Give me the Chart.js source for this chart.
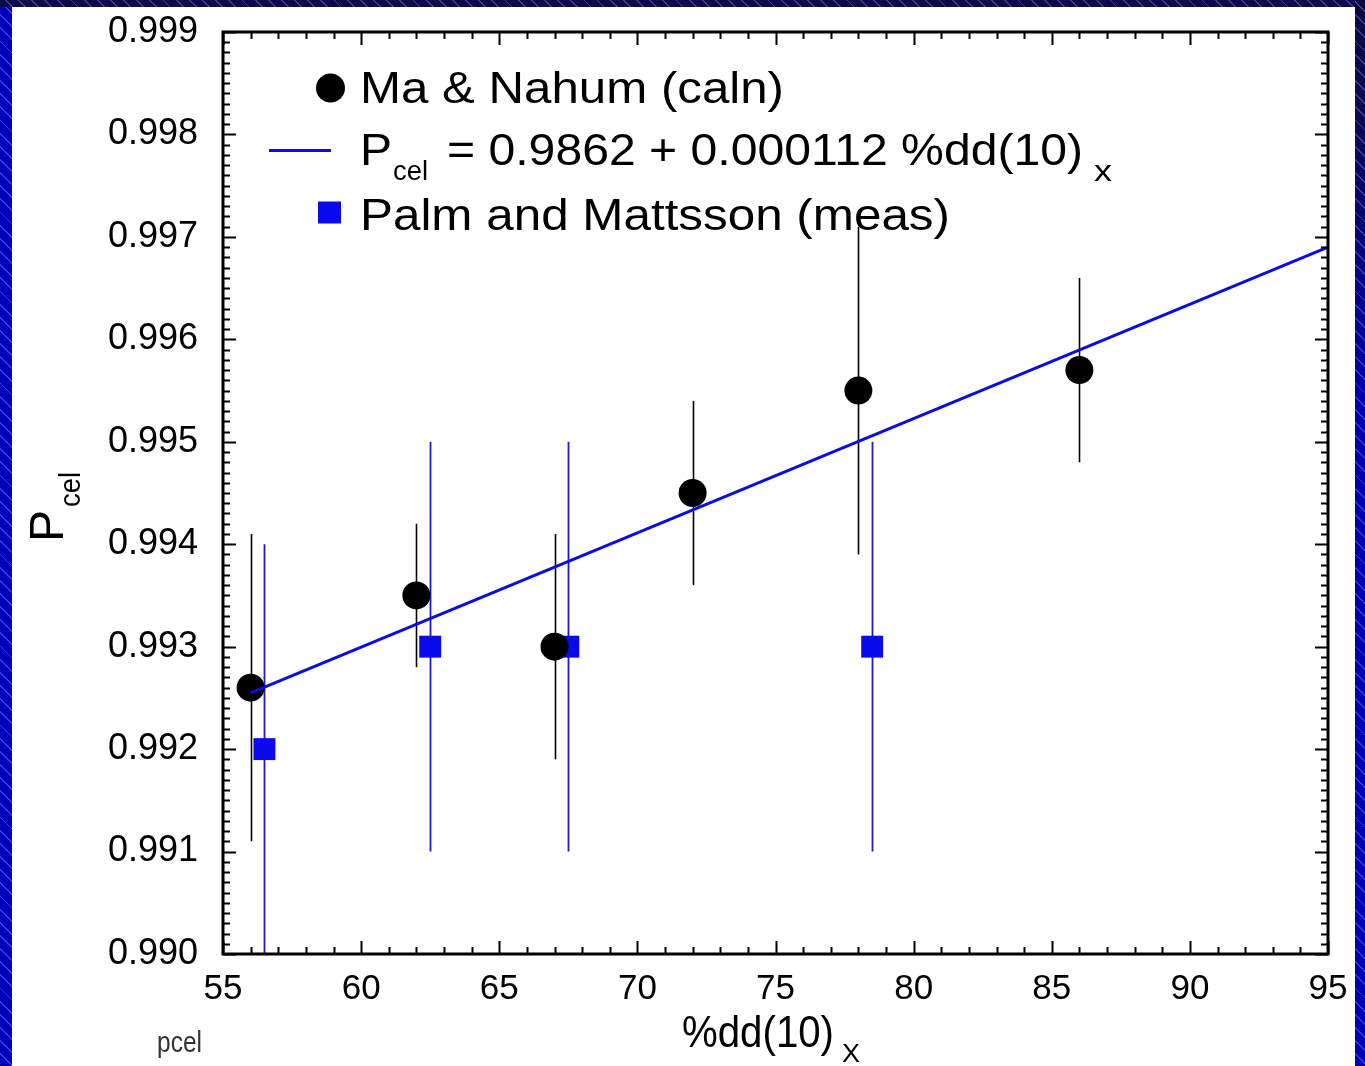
<!DOCTYPE html>
<html>
<head>
<meta charset="utf-8">
<script src="https://cdn.jsdelivr.net/npm/chart.js@4.4.1/dist/chart.umd.min.js"></script>
<style>
  html,body{margin:0;padding:0;}
  body{width:1365px;height:1066px;overflow:hidden;position:relative;
    background:
      repeating-linear-gradient(45deg, rgba(0,0,0,0) 0px, rgba(0,0,0,0) 8px, rgba(110,110,255,0.55) 8px, rgba(110,110,255,0.55) 9.3px),
      #0000b8;}
  #topband{position:absolute;left:0;top:0;width:1365px;height:7px;
    background:
      repeating-linear-gradient(45deg, rgba(0,0,0,0) 0px, rgba(0,0,0,0) 8px, rgba(110,110,200,0.5) 8px, rgba(110,110,200,0.5) 9.3px),
      #0c0c4c;}
  #rightband{position:absolute;left:1355px;top:0;width:10px;height:1066px;
    background:
      repeating-linear-gradient(45deg, rgba(0,0,0,0) 0px, rgba(0,0,0,0) 8px, rgba(110,110,220,0.5) 8px, rgba(110,110,220,0.5) 9.3px),
      linear-gradient(to bottom, #0a0a40 0px, #0a0a50 120px, #0000b0 400px, #0000b8 1066px);}
  #panel{position:absolute;left:12px;top:7px;width:1343px;height:1059px;background:#ffffff;}
  #c{position:absolute;left:0;top:0;}
</style>
</head>
<body>
<div id="topband"></div>
<div id="rightband"></div>
<div id="panel"></div>
<canvas id="c" width="1365" height="1066"></canvas>
<script>
// ---------- data ----------
const xTickValues = [55, 60, 65, 70, 75, 80, 85, 90, 95];
const xTickLabels = ['55', '60', '65', '70', '75', '80', '85', '90', '95'];
const yTickValues = [0.990, 0.991, 0.992, 0.993, 0.994, 0.995, 0.996, 0.997, 0.998, 0.999];
const yTickLabels = ['0.990', '0.991', '0.992', '0.993', '0.994', '0.995', '0.996', '0.997', '0.998', '0.999'];

// Ma & Nahum (caln)
const maX   = [56, 62, 67, 72, 78, 86];
const maY   = [0.9926, 0.9935, 0.9930, 0.9945, 0.9955, 0.9957];
const maErr = [0.0015, 0.0007, 0.0011, 0.0009, 0.0016, 0.0009];

// Palm and Mattsson (meas)
const pmX   = [56.5, 62.5, 67.5, 78.5];
const pmY   = [0.9920, 0.9930, 0.9930, 0.9930];
const pmErr = [0.0020, 0.0020, 0.0020, 0.0020];

// fitted line endpoints
const fitX = [56, 95];
const fitY = [0.99255, 0.99690];

const legendLabels = ['Ma & Nahum (caln)', 'P', 'cel', '= 0.9862 + 0.000112 %dd(10)', 'x', 'Palm and Mattsson (meas)'];
const xTitle = ['%dd(10)', 'X'];
const yTitle = ['P', 'cel'];
const footNote = 'pcel';

// ---------- drawing ----------
const FAM = '"Liberation Sans", Arial, Helvetica, sans-serif';
const BLUE = '#0a0aee';
const LINEBLUE = '#0c0ce0';

function fitText(ctx, text, x, y, size, targetW, color) {
  ctx.save();
  ctx.font = size + 'px ' + FAM;
  ctx.fillStyle = color || '#000';
  ctx.textAlign = 'left';
  ctx.textBaseline = 'alphabetic';
  const w = ctx.measureText(text).width;
  const sx = targetW ? targetW / w : 1;
  ctx.translate(x, y);
  ctx.scale(sx, 1);
  ctx.fillText(text, 0, 0);
  ctx.restore();
}

const deco = {
  id: 'deco',
  beforeDatasetsDraw(chart) {
    const ctx = chart.ctx;
    const xs = chart.scales.x, ys = chart.scales.y;
    const a = chart.chartArea;

    // legend
    ctx.save();
    ctx.fillStyle = '#000';
    ctx.beginPath();
    ctx.arc(330.5, 88, 14.5, 0, Math.PI * 2);
    ctx.fill();
    fitText(ctx, legendLabels[0], 360, 103, 44, 424);

    ctx.strokeStyle = LINEBLUE;
    ctx.lineWidth = 3;
    ctx.beginPath();
    ctx.moveTo(269, 150.5);
    ctx.lineTo(331, 150.5);
    ctx.stroke();
    fitText(ctx, legendLabels[1], 360, 165, 44, 32);
    fitText(ctx, legendLabels[2], 393, 180, 27, 35);
    fitText(ctx, legendLabels[3], 447, 165, 44, 636);
    fitText(ctx, legendLabels[4], 1094, 181, 30, 18);

    ctx.fillStyle = BLUE;
    ctx.fillRect(318, 201.5, 23, 22);
    fitText(ctx, legendLabels[5], 360, 230, 44, 590);
    ctx.restore();

    // error bars
    ctx.save();
    ctx.beginPath();
    ctx.rect(a.left, a.top, a.right - a.left, a.bottom - a.top);
    ctx.clip();
    ctx.lineWidth = 1.6;
    ctx.strokeStyle = '#000';
    maX.forEach((x, i) => {
      const px = Math.round(xs.getPixelForValue(x)) + 0.5;
      ctx.beginPath();
      ctx.moveTo(px, ys.getPixelForValue(maY[i] + maErr[i]));
      ctx.lineTo(px, ys.getPixelForValue(maY[i] - maErr[i]));
      ctx.stroke();
    });
    ctx.strokeStyle = '#1a1ad0';
    ctx.lineWidth = 1.8;
    pmX.forEach((x, i) => {
      const px = Math.round(xs.getPixelForValue(x)) + 0.5;
      ctx.beginPath();
      ctx.moveTo(px, ys.getPixelForValue(pmY[i] + pmErr[i]));
      ctx.lineTo(px, ys.getPixelForValue(pmY[i] - pmErr[i]));
      ctx.stroke();
    });
    ctx.restore();
  },
  afterDatasetsDraw(chart) {
    const ctx = chart.ctx;
    const xs = chart.scales.x, ys = chart.scales.y;
    const a = chart.chartArea;
    ctx.save();
    ctx.strokeStyle = '#000';
    // ticks
    ctx.lineWidth = 2;
    const yMinV = ys.min, xMinV = xs.min;
    for (let k = 0; k <= 90; k++) {
      const v = yMinV + k * 0.0001;
      const py = Math.round(ys.getPixelForValue(v)) + 0.5;
      const len = (k % 10 === 0) ? 13 : 7;
      ctx.beginPath();
      ctx.moveTo(a.left, py); ctx.lineTo(a.left + len, py);
      ctx.moveTo(a.right, py); ctx.lineTo(a.right - len, py);
      ctx.stroke();
    }
    for (let k = 0; k <= 40; k++) {
      const v = xMinV + k;
      const px = Math.round(xs.getPixelForValue(v)) + 0.5;
      const len = (k % 5 === 0) ? 13 : 7;
      ctx.beginPath();
      ctx.moveTo(px, a.bottom); ctx.lineTo(px, a.bottom - len);
      ctx.moveTo(px, a.top); ctx.lineTo(px, a.top + len);
      ctx.stroke();
    }
    // frame
    ctx.lineWidth = 3;
    ctx.strokeRect(a.left, a.top, a.right - a.left, a.bottom - a.top);
    ctx.restore();
  },
  afterDraw(chart) {
    const ctx = chart.ctx;
    // x title
    fitText(ctx, xTitle[0], 682, 1047, 44, 152);
    fitText(ctx, xTitle[1], 842, 1062, 26, 18);
    // y title (rotated)
    ctx.save();
    ctx.translate(63, 542);
    ctx.rotate(-Math.PI / 2);
    fitText(ctx, yTitle[0], 0, 0, 49, 32);
    fitText(ctx, yTitle[1], 35, 17, 30, 35);
    ctx.restore();
    // footnote
    fitText(ctx, footNote, 157, 1052, 30, 45, '#333');
  }
};

const ctx = document.getElementById('c').getContext('2d');
new Chart(ctx, {
  type: 'scatter',
  data: {
    datasets: [
      {
        label: 'fit',
        type: 'line',
        data: fitX.map((x, i) => ({ x: x, y: fitY[i] })),
        borderColor: LINEBLUE,
        borderWidth: 3,
        pointRadius: 0,
        fill: false,
        tension: 0,
        order: 0
      },
      {
        label: 'Ma & Nahum (caln)',
        data: maX.map((x, i) => ({ x: x, y: maY[i] })),
        pointStyle: 'circle',
        pointRadius: 14,
        backgroundColor: '#000',
        borderColor: '#000',
        borderWidth: 0,
        order: 1
      },
      {
        label: 'Palm and Mattsson (meas)',
        data: pmX.map((x, i) => ({ x: x, y: pmY[i] })),
        pointStyle: 'rect',
        pointRadius: 15.5,
        backgroundColor: BLUE,
        borderColor: BLUE,
        borderWidth: 0,
        order: 2
      }
    ]
  },
  options: {
    responsive: false,
    animation: false,
    events: [],
    layout: { padding: { left: 12, top: 32, right: 37, bottom: 0 } },
    plugins: { legend: { display: false }, tooltip: { enabled: false } },
    scales: {
      x: {
        type: 'linear',
        min: 55, max: 95,
        grid: { display: false, drawTicks: true, tickLength: 14 },
        border: { display: false },
        afterBuildTicks: s => { s.ticks = xTickValues.map(v => ({ value: v })); },
        afterFit: s => { s.height = 112; },
        ticks: {
          callback: (v, i) => xTickLabels[i],
          font: { family: FAM, size: 35 },
          color: '#000',
          padding: 0,
          maxRotation: 0,
          autoSkip: false
        }
      },
      y: {
        type: 'linear',
        min: 0.990, max: 0.999,
        grid: { display: false, drawTicks: true, tickLength: 25 },
        border: { display: false },
        afterBuildTicks: s => { s.ticks = yTickValues.map(v => ({ value: v })); },
        afterFit: s => { s.width = 211; },
        ticks: {
          callback: (v, i) => yTickLabels[i],
          font: { family: FAM, size: 36 },
          color: '#000',
          padding: 0,
          autoSkip: false
        }
      }
    }
  },
  plugins: [deco]
});
</script>
</body>
</html>
